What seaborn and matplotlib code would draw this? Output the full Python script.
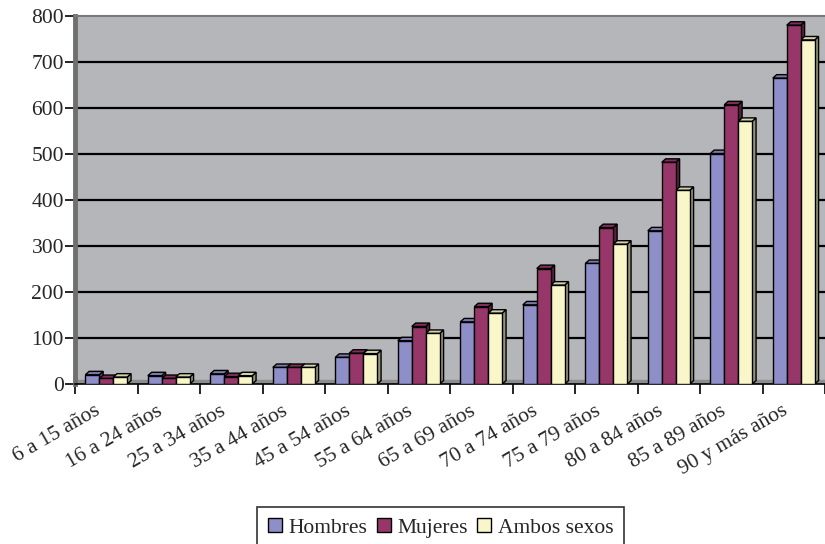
import matplotlib
matplotlib.use("Agg")
import matplotlib.pyplot as plt
from matplotlib.patches import Polygon, Patch
from matplotlib.colors import to_rgb
import matplotlib.transforms as mtransforms
import numpy as np
import pandas as pd
import seaborn as sns

# Age groups and values per group
grupos = ["6 a 15 años", "16 a 24 años", "25 a 34 años", "35 a 44 años",
          "45 a 54 años", "55 a 64 años", "65 a 69 años", "70 a 74 años",
          "75 a 79 años", "80 a 84 años", "85 a 89 años", "90 y más años"]
hombres = [20, 18, 22, 36, 58, 94, 135, 172, 262, 333, 501, 665]
mujeres = [12, 12, 16, 36, 67, 125, 168, 251, 340, 482, 607, 780]
ambos = [15, 15, 18, 36, 66, 110, 154, 215, 304, 421, 571, 748]

series = ["Hombres", "Mujeres", "Ambos sexos"]
colores = ["#8E8FC8", "#973669", "#F9F7C9"]

df = pd.DataFrame({
    "grupo": grupos * 3,
    "serie": [s for s in series for _ in grupos],
    "valor": hombres + mujeres + ambos,
})

sns.set_theme(style="white")
plt.rcParams["font.family"] = ["Liberation Serif", "DejaVu Serif"]

W, H = 825, 544
fig = plt.figure(figsize=(W / 100, H / 100), dpi=100)
ax = fig.add_axes([75 / W, (H - 384) / H, 750 / W, 368 / H])
ax.set_facecolor("#B5B6BA")

sns.barplot(data=df, x="grupo", y="valor", hue="serie", order=grupos,
            hue_order=series, palette=colores, width=0.67, gap=0,
            edgecolor="black", linewidth=1.0, saturation=1, legend=False,
            ax=ax, zorder=3)

ax.set_xlim(-0.5, 11.5)
ax.set_ylim(0, 800)

# floor strip
ax.axhspan(0, 8, color="#8D8D8F", zorder=1)

# gridlines
for v in range(100, 800, 100):
    ax.axhline(v, color="black", lw=1.6, zorder=2)

# 3D faces on each bar
dx, dy = 0.062, 7.5
def shade(c, f):
    r, g, b = to_rgb(c)
    return (r * f, g * f, b * f)

for cont, col in zip(ax.containers, colores):
    for rect in cont:
        x0 = rect.get_x()
        w = rect.get_width()
        h = rect.get_height()
        top = Polygon([(x0, h), (x0 + dx, h + dy), (x0 + w + dx, h + dy), (x0 + w, h)],
                      closed=True, facecolor=shade(col, 0.85), edgecolor="black",
                      lw=1.0, zorder=2.9)
        side = Polygon([(x0 + w, 0), (x0 + w + dx, dy), (x0 + w + dx, h + dy), (x0 + w, h)],
                       closed=True, facecolor=shade(col, 0.6), edgecolor="black",
                       lw=1.0, zorder=2.9)
        ax.add_patch(side)
        ax.add_patch(top)

# spines
ax.spines["right"].set_visible(False)
ax.spines["top"].set_color("#7A7A7A")
ax.spines["top"].set_linewidth(1.5)
ax.spines["left"].set_color("#6F6F6F")
ax.spines["left"].set_linewidth(3.5)
ax.spines["bottom"].set_color("black")
ax.spines["bottom"].set_linewidth(1.2)

ax.set_yticks(range(0, 801, 100))
ax.tick_params(axis="y", direction="out", length=7, width=1.2, color="black",
               labelsize=15.5, pad=1, left=True)
ax.set_xticks(np.arange(12))
ax.set_xticks(np.arange(-0.5, 12, 1), minor=True)
ax.tick_params(axis="x", which="major", length=0, labelsize=15.5, pad=4)
ax.tick_params(axis="x", which="minor", direction="out", length=7, width=1.2,
               color="black", bottom=True)
ax.set_xticklabels(grupos, rotation=30, ha="right", rotation_mode="anchor")
shift = mtransforms.ScaledTranslation(-0.12, -0.12, fig.dpi_scale_trans)
for lab in ax.get_xticklabels():
    lab.set_transform(lab.get_transform() + shift)
ax.set_xlabel("")
ax.set_ylabel("")
ax.grid(False)

handles = [Patch(facecolor=c, edgecolor="black", lw=1.0, label=s)
           for c, s in zip(colores, series)]
leg = fig.legend(handles=handles, loc="lower center", ncol=3,
                 bbox_to_anchor=(0.534, -0.02), frameon=True, fancybox=False,
                 fontsize=15.5, handlelength=0.65, handleheight=0.65,
                 handletextpad=0.3, columnspacing=0.45, borderpad=0.5,
                 borderaxespad=0.3, edgecolor="black")
leg.get_frame().set_linewidth(1.2)

fig.savefig("out.png", dpi=100, facecolor="white")
